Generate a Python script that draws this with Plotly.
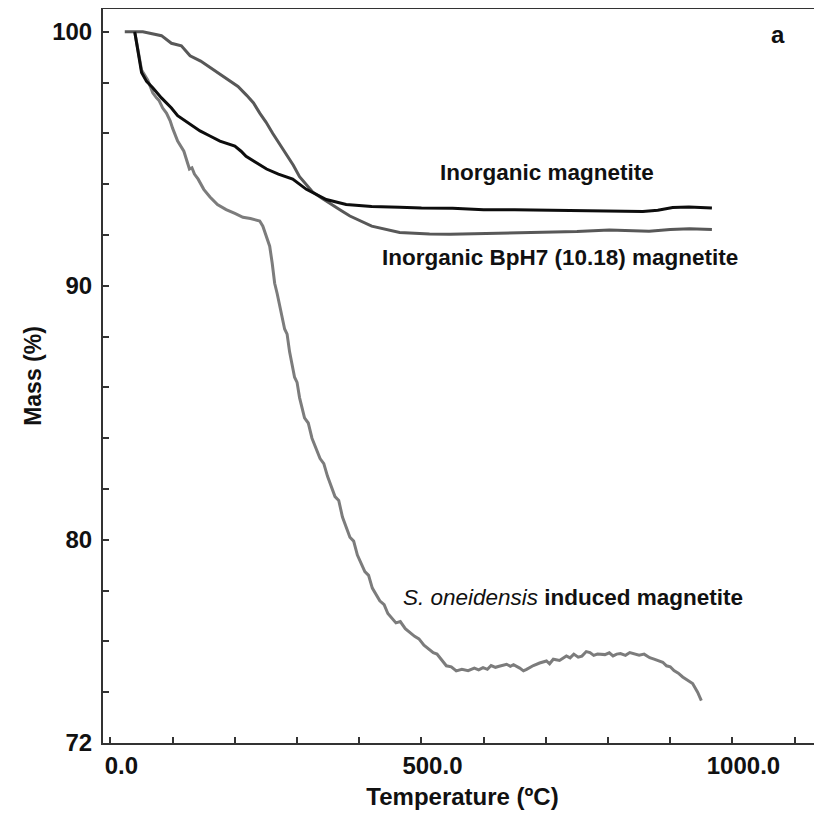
import plotly.graph_objects as go

# ---------------- data ----------------
inorg_T = [39, 44, 50, 58, 68, 82, 98, 108, 125, 144, 160, 176, 200, 210, 218, 235, 251, 270, 293,
           315, 330, 347, 379, 420, 465, 500, 550, 600, 650, 700, 750, 800, 830, 856, 880, 904, 930, 950, 967]
inorg_M = [100.0, 99.2, 98.4, 98.05, 97.8, 97.4, 97.0, 96.7, 96.4, 96.1, 95.9, 95.7, 95.5, 95.3, 95.1,
           94.85, 94.6, 94.4, 94.2, 93.8, 93.6, 93.4, 93.2, 93.12, 93.09, 93.06, 93.05, 93.0, 93.0, 92.98,
           92.96, 92.95, 92.94, 92.93, 92.98, 93.08, 93.1, 93.08, 93.06]

bph7_T = [23, 52, 82, 98, 114, 128, 145, 160, 176, 192, 205, 219, 230, 240, 250, 261, 272, 283, 294,
          304, 315, 325, 340, 358, 372, 385, 420, 465, 513, 546, 590, 626, 670, 707, 750, 802, 840, 866,
          900, 931, 967]
bph7_M = [100.0, 100.0, 99.85, 99.55, 99.45, 99.06, 98.85, 98.6, 98.35, 98.1, 97.85, 97.5, 97.2, 96.8,
          96.45, 96.0, 95.6, 95.2, 94.75, 94.3, 94.0, 93.7, 93.45, 93.15, 92.95, 92.75, 92.35, 92.1,
          92.04, 92.03, 92.05, 92.07, 92.08, 92.1, 92.14, 92.2, 92.18, 92.15, 92.22, 92.25, 92.22]

oneid_T = [39, 50, 60, 68, 74, 78, 84, 90, 96, 100, 108, 114, 118, 127, 131, 135, 141, 150, 160, 172,
           186, 200, 213, 225, 235, 240, 245, 250, 256, 260, 264, 268, 272, 280, 284, 288, 296, 300,
           304, 312, 318, 324, 337, 343, 349, 361, 367, 373, 385, 391, 397, 409, 415, 421, 433, 440,
           446, 459, 466, 474, 489, 496, 504, 519, 525, 530, 540, 548, 556, 565, 575, 585, 592, 599,
           606, 612, 619, 625, 637, 643, 648, 658, 664, 669, 680, 690, 701, 706, 712, 722, 733, 739,
           745, 752, 758, 765, 771, 777, 783, 795, 802, 808, 814, 820, 828, 835, 842, 850, 858, 867,
           874, 880, 888, 894, 900, 906, 913, 920, 928, 936, 944, 950]
oneid_M = [100.0, 98.5, 98.1, 97.6, 97.4, 97.3, 97.0, 96.8, 96.5, 96.2, 95.7, 95.45, 95.3, 94.6,
           94.65, 94.4, 94.2, 93.8, 93.5, 93.2, 93.0, 92.85, 92.7, 92.65, 92.6, 92.55, 92.35, 92.0,
           91.56, 90.9, 90.1, 89.7, 89.2, 88.3, 88.1, 87.4, 86.4, 86.2, 85.6, 84.8, 84.6, 84.0, 83.2,
           83.0, 82.5, 81.7, 81.55, 80.9, 80.1, 79.95, 79.4, 78.75, 78.6, 78.1, 77.6, 77.45, 77.1,
           76.73, 76.78, 76.5, 76.2, 76.1, 75.85, 75.56, 75.5, 75.35, 75.04, 75.0, 74.84, 74.9, 74.85,
           74.95, 74.88, 74.97, 74.9, 75.05, 74.98, 75.02, 75.1, 75.02, 75.08, 74.95, 74.84, 74.9,
           75.05, 75.15, 75.23, 75.12, 75.3, 75.25, 75.43, 75.35, 75.5, 75.38, 75.42, 75.6, 75.56,
           75.45, 75.5, 75.48, 75.55, 75.43, 75.5, 75.52, 75.45, 75.56, 75.5, 75.46, 75.5, 75.36,
           75.3, 75.25, 75.18, 75.04, 75.0, 74.85, 74.75, 74.6, 74.48, 74.34, 74.0, 73.67]

x_tickvals = [0, 500, 1000]
x_ticktext = ["0.0", "500.0", "1000.0"]
y_tickvals = [72, 80, 90, 100]
y_ticktext = ["72", "80", "90", "100"]

# label text with its centre in page pixels
labels = [
    ("Inorganic magnetite", 547, 172, 22.5),
    ("Inorganic BpH7 (10.18) magnetite", 560, 257, 22.5),
    ("<i style='font-weight:normal'>S. oneidensis</i> induced magnetite", 573, 597, 22.5),
    ("a", 778, 35, 24),
]

# ---------------- figure ----------------
FONT = "Liberation Sans, Arial, sans-serif"
OFF = 8  # body margin of the html page
fig = go.Figure()
fig.add_trace(go.Scatter(x=bph7_T, y=bph7_M, mode="lines",
                         line=dict(color="#585858", width=3), name="Inorganic BpH7 (10.18) magnetite"))
fig.add_trace(go.Scatter(x=oneid_T, y=oneid_M, mode="lines",
                         line=dict(color="#7c7c7c", width=3), name="S. oneidensis induced magnetite"))
fig.add_trace(go.Scatter(x=inorg_T, y=inorg_M, mode="lines",
                         line=dict(color="#0d0d0d", width=3), name="Inorganic magnetite"))

W, H = 814, 808
ml, mr, mt, mb = 95, 0, 1, 73
for txt, px, py, fs in labels:
    fig.add_annotation(
        text=txt, xref="paper", yref="paper",
        x=(px - OFF - ml) / (W - ml - mr), y=1 - (py - OFF - mt) / (H - mt - mb),
        showarrow=False, xanchor="center", yanchor="middle",
        font=dict(family=FONT, size=fs, color="#111", weight="bold"),
    )

fig.update_layout(
    width=W, height=H, margin=dict(l=ml, r=mr, t=mt, b=mb, autoexpand=False),
    paper_bgcolor="white", plot_bgcolor="white", showlegend=False,
    font=dict(family=FONT, color="#111"),
)
fig.update_xaxes(
    range=[-12, 1144], showgrid=False, zeroline=False,
    showline=True, linecolor="#333", linewidth=2, mirror=True,
    tickmode="array", tickvals=x_tickvals, ticktext=x_ticktext,
    ticks="inside", ticklen=6, tickwidth=1.5, tickcolor="#333",
    minor=dict(dtick=100, tick0=0, ticks="inside", ticklen=6, tickwidth=1.5, tickcolor="#333"),
    tickfont=dict(family=FONT, size=24, color="#111", weight="bold"),
    ticklabelshift=11, ticklabelstandoff=0,
    title=dict(text="Temperature (ºC)", standoff=10,
               font=dict(family=FONT, size=24, color="#111", weight="bold")),
)
fig.update_yaxes(
    range=[72, 100.9], showgrid=False, zeroline=False,
    showline=True, linecolor="#333", linewidth=2,
    tickmode="array", tickvals=y_tickvals, ticktext=y_ticktext,
    ticks="inside", ticklen=6, tickwidth=1.5, tickcolor="#333",
    minor=dict(dtick=2, tick0=72, ticks="inside", ticklen=6, tickwidth=1.5, tickcolor="#333"),
    tickfont=dict(family=FONT, size=24, color="#111", weight="bold"),
    ticklabelstandoff=4,
    title=dict(text="Mass (%)", standoff=4,
               font=dict(family=FONT, size=23, color="#111", weight="bold")),
)

fig.write_html("out.html")
